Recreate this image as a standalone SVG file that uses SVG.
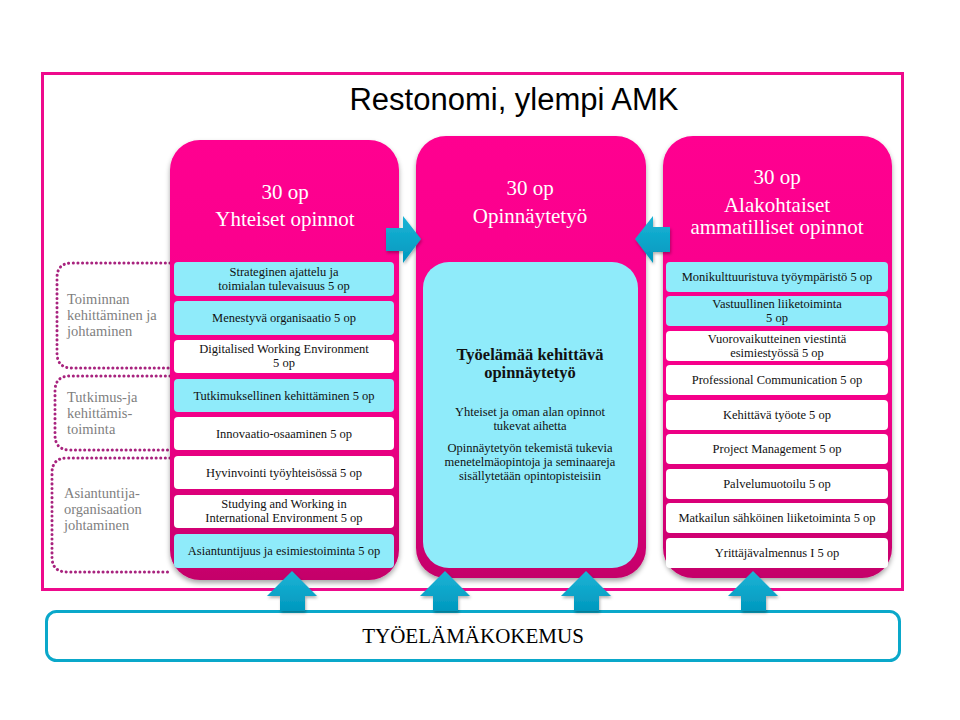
<svg xmlns="http://www.w3.org/2000/svg" width="960" height="720" viewBox="0 0 960 720">
<defs>
<linearGradient id="pinkG" x1="0" y1="0" x2="0" y2="1">
<stop offset="0" stop-color="#FF0090"/>
<stop offset="0.6" stop-color="#F5008A"/>
<stop offset="1" stop-color="#C4006A"/>
</linearGradient>
<linearGradient id="arrG" x1="0" y1="0" x2="0" y2="1">
<stop offset="0" stop-color="#1BB4D6"/>
<stop offset="1" stop-color="#0098BE"/>
</linearGradient>
<filter id="sh" x="-10%" y="-10%" width="120%" height="120%">
<feDropShadow dx="0" dy="3" stdDeviation="2.5" flood-color="#000" flood-opacity="0.35"/>
</filter>
<filter id="ash" x="-20%" y="-20%" width="140%" height="140%">
<feDropShadow dx="1" dy="2" stdDeviation="1.5" flood-color="#000" flood-opacity="0.3"/>
</filter>
</defs>
<style>
.col{fill:url(#pinkG);filter:url(#sh)}
.cy{fill:#8FEBFA}
.wh{fill:#FFFFFF}
.it{font-family:"Liberation Serif","DejaVu Serif",serif;font-size:12.5px;fill:#111;text-anchor:middle}
.hd{font-family:"Liberation Serif","DejaVu Serif",serif;font-size:21px;fill:#FFFFFF;text-anchor:middle}
.side{font-family:"Liberation Serif","DejaVu Serif",serif;font-size:14.5px;fill:#7F7F7F}
.dot{fill:none;stroke:#A8237E;stroke-width:3;stroke-dasharray:0.1 4.5;stroke-linecap:round}
.arr{fill:url(#arrG);filter:url(#ash)}
.mid{font-family:"Liberation Serif","DejaVu Serif",serif;font-size:12.5px;fill:#111;text-anchor:middle}
.midb{font-family:"Liberation Serif","DejaVu Serif",serif;font-size:16.5px;font-weight:bold;fill:#111;text-anchor:middle}
</style>
<rect width="960" height="720" fill="#FFFFFF"/>

<g id="frame">
<rect x="42.5" y="73.5" width="860" height="516" fill="none" stroke="#EE0A8C" stroke-width="3"/>
</g>

<g id="title">
<text x="514" y="110" font-family="'Liberation Sans','DejaVu Sans',sans-serif" font-size="31" fill="#000" text-anchor="middle">Restonomi, ylempi AMK</text>
</g>

<g id="side-toiminnan">
<path class="dot" d="M170,263 H72 Q57,263 57,278 V353 Q57,368 72,368 H170"/>
<text class="side" x="67" y="304">Toiminnan</text>
<text class="side" x="67" y="320">kehittäminen ja</text>
<text class="side" x="67" y="336">johtaminen</text>
</g>
<g id="side-tutkimus">
<path class="dot" d="M170,376 H70 Q55,376 55,391 V435 Q55,450 70,450 H170"/>
<text class="side" x="67" y="402">Tutkimus-ja</text>
<text class="side" x="67" y="418">kehittämis-</text>
<text class="side" x="67" y="434">toiminta</text>
</g>
<g id="side-asiantuntija">
<path class="dot" d="M170,458 H67 Q52,458 52,473 V557 Q52,572 67,572 H170"/>
<text class="side" x="64" y="498">Asiantuntija-</text>
<text class="side" x="64" y="514">organisaation</text>
<text class="side" x="64" y="530">johtaminen</text>
</g>

<g id="col-yhteiset">
<rect class="col" x="170" y="140" width="229" height="440" rx="30"/>
<text class="hd" x="285" y="199">30 op</text>
<text class="hd" x="285" y="226">Yhteiset opinnot</text>
<rect class="cy" x="174" y="262" width="220" height="34" rx="4"/>
<text class="it" x="284" y="276">Strateginen ajattelu ja</text>
<text class="it" x="284" y="290">toimialan tulevaisuus 5 op</text>
<rect class="cy" x="174" y="301" width="220" height="34" rx="4"/>
<text class="it" x="284" y="322">Menestyvä organisaatio 5 op</text>
<rect class="wh" x="174" y="340" width="220" height="33" rx="4"/>
<text class="it" x="284" y="353">Digitalised Working Environment</text>
<text class="it" x="284" y="367">5 op</text>
<rect class="cy" x="174" y="379" width="220" height="33" rx="4"/>
<text class="it" x="284" y="400">Tutkimuksellinen kehittäminen 5 op</text>
<rect class="wh" x="174" y="417" width="220" height="33" rx="4"/>
<text class="it" x="284" y="438">Innovaatio-osaaminen 5 op</text>
<rect class="wh" x="174" y="456" width="220" height="33" rx="4"/>
<text class="it" x="284" y="477">Hyvinvointi työyhteisössä 5 op</text>
<rect class="wh" x="174" y="495" width="220" height="33" rx="4"/>
<text class="it" x="284" y="508">Studying and Working in</text>
<text class="it" x="284" y="522">International Environment 5 op</text>
<rect class="cy" x="174" y="534" width="220" height="34" rx="4"/>
<text class="it" x="284" y="555">Asiantuntijuus ja esimiestoiminta 5 op</text>
</g>

<g id="col-opinnaytetyo">
<rect class="col" x="416" y="136" width="230" height="442" rx="30"/>
<text class="hd" x="530" y="195">30 op</text>
<text class="hd" x="530" y="223">Opinnäytetyö</text>
<rect class="cy" x="423" y="262" width="215" height="306" rx="26"/>
<text class="midb" x="530" y="360">Työelämää kehittävä</text>
<text class="midb" x="530" y="378">opinnäytetyö</text>
<text class="mid" x="530" y="416">Yhteiset ja oman alan opinnot</text>
<text class="mid" x="530" y="430">tukevat aihetta</text>
<text class="mid" x="530" y="452">Opinnäytetyön tekemistä tukevia</text>
<text class="mid" x="530" y="466">menetelmäopintoja ja seminaareja</text>
<text class="mid" x="530" y="480">sisällytetään opintopisteisiin</text>
</g>

<g id="col-alakohtaiset">
<rect class="col" x="663" y="136" width="229" height="442" rx="30"/>
<text class="hd" x="777" y="184">30 op</text>
<text class="hd" x="777" y="212">Alakohtaiset</text>
<text class="hd" x="777" y="234">ammatilliset opinnot</text>
<rect class="cy" x="666" y="262" width="222" height="30" rx="4"/>
<text class="it" x="777" y="281">Monikulttuuristuva työympäristö 5 op</text>
<rect class="cy" x="666" y="296" width="222" height="30" rx="4"/>
<text class="it" x="777" y="308">Vastuullinen liiketoiminta</text>
<text class="it" x="777" y="322">5 op</text>
<rect class="wh" x="666" y="331" width="222" height="30" rx="4"/>
<text class="it" x="777" y="343">Vuorovaikutteinen viestintä</text>
<text class="it" x="777" y="357">esimiestyössä 5 op</text>
<rect class="wh" x="666" y="365" width="222" height="30" rx="4"/>
<text class="it" x="777" y="384">Professional Communication 5 op</text>
<rect class="wh" x="666" y="400" width="222" height="30" rx="4"/>
<text class="it" x="777" y="419">Kehittävä  työote 5 op</text>
<rect class="wh" x="666" y="434" width="222" height="30" rx="4"/>
<text class="it" x="777" y="453">Project Management 5 op</text>
<rect class="wh" x="666" y="469" width="222" height="30" rx="4"/>
<text class="it" x="777" y="488">Palvelumuotoilu 5 op</text>
<rect class="wh" x="666" y="503" width="222" height="30" rx="4"/>
<text class="it" x="777" y="522">Matkailun sähköinen liiketoiminta 5 op</text>
<rect class="wh" x="666" y="538" width="222" height="30" rx="4"/>
<text class="it" x="777" y="557">Yrittäjävalmennus I 5 op</text>
</g>

<g id="tyoelamakokemus">
<rect x="46.5" y="611.5" width="853" height="49" rx="10" fill="#FFFFFF" stroke="#0AA8CA" stroke-width="3"/>
<text x="473" y="643" font-family="'Liberation Serif','DejaVu Serif',serif" font-size="21" fill="#000" text-anchor="middle">TYÖELÄMÄKOKEMUS</text>
</g>

<g id="connectors">
<path class="arr" d="M386,228 H403 V216 L421,239 L403,263 V251 H386 Z"/>
<path class="arr" d="M670,227 H653 V216 L635,239 L653,263 V252 H670 Z"/>
<path class="arr" d="M292,571 L317,596 H305 V611 H280 V596 H267 Z"/>
<path class="arr" d="M445,571 L470,596 H458 V611 H433 V596 H420 Z"/>
<path class="arr" d="M586,571 L611,596 H599 V611 H574 V596 H561 Z"/>
<path class="arr" d="M753,571 L778,596 H766 V611 H741 V596 H728 Z"/>
</g>
</svg>
